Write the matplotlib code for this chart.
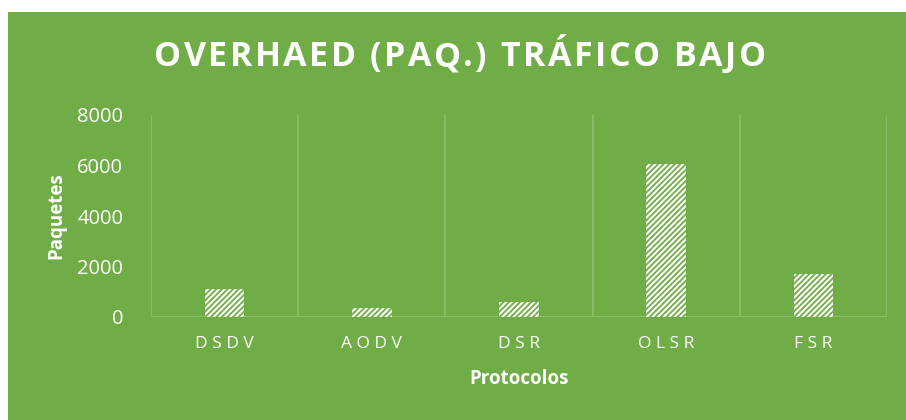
import matplotlib.pyplot as plt
import numpy as np
from matplotlib.patches import Rectangle

# Overhead en paquetes por protocolo, tráfico bajo
protocolos = ['DSDV', 'AODV', 'DSR', 'OLSR', 'FSR']
paquetes = [1100, 360, 600, 6060, 1700]
titulo = 'OVERHAED (PAQ.) TRÁFICO BAJO'

verde = '#70AD47'
linea = '#8DBF6B'

plt.rcParams['hatch.linewidth'] = 1.3
plt.rcParams['hatch.color'] = verde

fig = plt.figure(figsize=(9.06, 4.2), dpi=100)
fig.patch.set_facecolor('white')
fondo = Rectangle((8 / 906, 0), 1, (420 - 12) / 420, transform=fig.transFigure,
                  facecolor=verde, edgecolor='none', zorder=-10)
fig.add_artist(fondo)

ax = fig.add_axes([151 / 906, 103 / 420, 736 / 906, 202 / 420])
ax.set_zorder(1)
ax.set_facecolor('none')

ind = np.arange(len(protocolos))
ax.bar(ind, paquetes, 0.27, facecolor='white', edgecolor=verde, hatch='//////', linewidth=0, zorder=2)

ax.set_xlim(-0.5, len(protocolos) - 0.5)
ax.set_ylim(0, 8000)
ax.set_yticks([0, 2000, 4000, 6000, 8000])

# líneas verticales entre categorías
for x in np.arange(-0.5, len(protocolos), 1.0):
    ax.axvline(x, color=linea, lw=1.2, zorder=0)

for s in ax.spines.values():
    s.set_visible(False)
ax.axhline(0, color=linea, lw=1.5, zorder=1)

ax.set_xticks(ind)
ax.set_xticklabels([' '.join(p) for p in protocolos], fontsize=12.5, color='white', family='Open Sans')
ax.tick_params(axis='x', length=0, pad=14)
ax.tick_params(axis='y', length=0, pad=20, labelsize=14.5, labelcolor='white')
for t in ax.get_yticklabels():
    t.set_family('Open Sans')

ax.set_xlabel('Protocolos', fontsize=13.5, fontweight='bold', color='white', family='Open Sans', labelpad=12)
ax.set_ylabel('Paquetes', fontsize=13.5, fontweight='bold', color='white', family='Open Sans', labelpad=8)

# título con espaciado entre letras
renderer = fig.canvas.get_renderer()
estilo = dict(fontsize=24.5, fontweight='bold', color='white', family='Open Sans', va='center', ha='left')
extra = 2.5
letras = []
anchos = []
for c in titulo:
    t = fig.text(0, 0, c if c != ' ' else '\u00a0', **estilo)
    letras.append(t)
    anchos.append(t.get_window_extent(renderer).width + extra)
total = sum(anchos) - extra
x = 460 - total / 2
for t, w in zip(letras, anchos):
    t.set_position((x / 906, 1 - 57 / 420))
    x += w

fig.savefig('out.png', dpi=100)
